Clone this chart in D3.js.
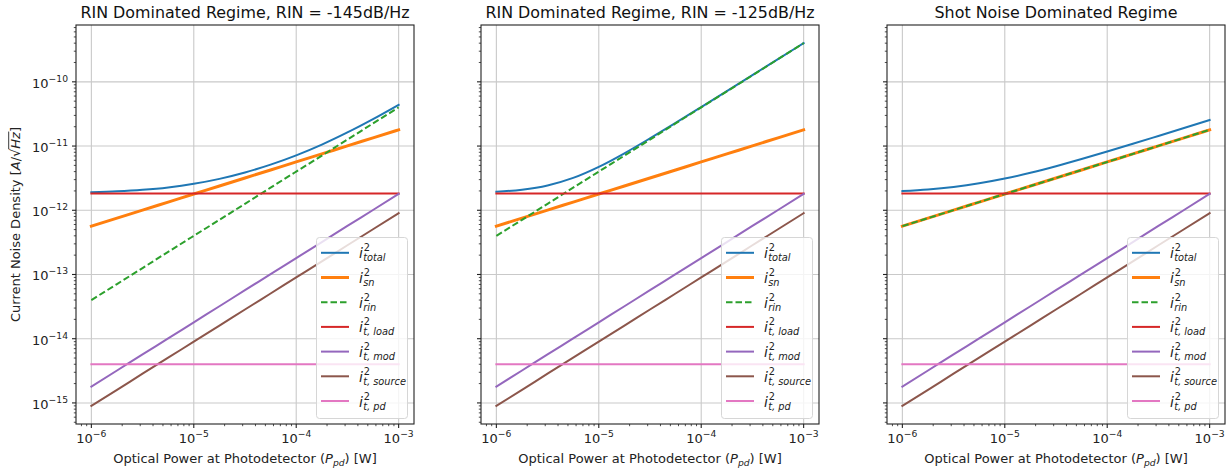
<!DOCTYPE html>
<html>
<head>
<meta charset="utf-8">
<script src="https://cdn.jsdelivr.net/npm/d3@7"></script>
<style>
  html, body { margin: 0; padding: 0; background: #fff; }
  svg { display: block; font-family: "DejaVu Sans", sans-serif; }
</style>
</head>
<body>
<svg id="chart" width="1231" height="472"></svg>
<script>
// Optical power at the photodetector (W), quarter-decade steps
const power = [1e-6, 1.78e-6, 3.16e-6, 5.62e-6, 1e-5, 1.78e-5, 3.16e-5, 5.62e-5, 1e-4, 1.78e-4, 3.16e-4, 5.62e-4, 1e-3];

// Noise current densities (A/sqrt(Hz))
const shotNoise    = [5.66e-13, 7.54e-13, 1.006e-12, 1.341e-12, 1.789e-12, 2.385e-12, 3.181e-12, 4.242e-12, 5.657e-12, 7.543e-12, 1.006e-11, 1.341e-11, 1.789e-11];
const rinNoise145  = [4.0e-14, 7.1e-14, 1.26e-13, 2.25e-13, 4.0e-13, 7.1e-13, 1.26e-12, 2.25e-12, 4.0e-12, 7.1e-12, 1.26e-11, 2.25e-11, 4.0e-11];
const rinNoise125  = [4.0e-13, 7.1e-13, 1.26e-12, 2.25e-12, 4.0e-12, 7.1e-12, 1.26e-11, 2.25e-11, 4.0e-11, 7.1e-11, 1.26e-10, 2.25e-10, 4.0e-10];
const rinNoiseShot = [5.66e-13, 7.54e-13, 1.006e-12, 1.341e-12, 1.789e-12, 2.385e-12, 3.181e-12, 4.242e-12, 5.657e-12, 7.543e-12, 1.006e-11, 1.341e-11, 1.789e-11];
const loadNoise    = [1.82e-12, 1.82e-12, 1.82e-12, 1.82e-12, 1.82e-12, 1.82e-12, 1.82e-12, 1.82e-12, 1.82e-12, 1.82e-12, 1.82e-12, 1.82e-12, 1.82e-12];
const modNoise     = [1.8e-15, 3.2e-15, 5.7e-15, 1.01e-14, 1.8e-14, 3.2e-14, 5.7e-14, 1.01e-13, 1.8e-13, 3.2e-13, 5.7e-13, 1.01e-12, 1.8e-12];
const sourceNoise  = [9.0e-16, 1.6e-15, 2.85e-15, 5.06e-15, 9.0e-15, 1.6e-14, 2.85e-14, 5.06e-14, 9.0e-14, 1.6e-13, 2.85e-13, 5.06e-13, 9.0e-13];
const pdNoise      = [4.0e-15, 4.0e-15, 4.0e-15, 4.0e-15, 4.0e-15, 4.0e-15, 4.0e-15, 4.0e-15, 4.0e-15, 4.0e-15, 4.0e-15, 4.0e-15, 4.0e-15];
const totalNoise145  = [1.906e-12, 1.971e-12, 2.083e-12, 2.271e-12, 2.583e-12, 3.083e-12, 3.877e-12, 5.136e-12, 7.166e-12, 1.053e-11, 1.628e-11, 2.628e-11, 4.39e-11];
const totalNoise125  = [1.947e-12, 2.094e-12, 2.434e-12, 3.189e-12, 4.745e-12, 7.72e-12, 1.317e-11, 2.296e-11, 4.044e-11, 7.155e-11, 1.269e-10, 2.253e-10, 4.004e-10];
const totalNoiseShot = [1.987e-12, 2.109e-12, 2.31e-12, 2.629e-12, 3.116e-12, 3.833e-12, 4.853e-12, 6.27e-12, 8.207e-12, 1.083e-11, 1.436e-11, 1.909e-11, 2.544e-11];

const panelTitles = ["RIN Dominated Regime, RIN = -145dB/Hz", "RIN Dominated Regime, RIN = -125dB/Hz", "Shot Noise Dominated Regime"];
const seriesSubscripts = ["total", "sn", "rin", "t, load", "t, mod", "t, source", "t, pd"];
const xTickExponents = [-6, -5, -4, -3];
const yTickExponents = [-15, -14, -13, -12, -11, -10];

const panels = [
  [totalNoise145, shotNoise, rinNoise145, loadNoise, modNoise, sourceNoise, pdNoise],
  [totalNoise125, shotNoise, rinNoise125, loadNoise, modNoise, sourceNoise, pdNoise],
  [totalNoiseShot, shotNoise, rinNoiseShot, loadNoise, modNoise, sourceNoise, pdNoise]
];

// ---- styling ----
const seriesStyle = [
  { color: "#1f77b4", width: 2.0, dash: null },
  { color: "#ff7f0e", width: 3.0, dash: null },
  { color: "#2ca02c", width: 2.0, dash: "6.5,3" },
  { color: "#d62728", width: 2.0, dash: null },
  { color: "#9467bd", width: 2.0, dash: null },
  { color: "#8c564b", width: 2.0, dash: null },
  { color: "#e377c2", width: 2.0, dash: null }
];
const panelLeft = [76, 481, 887];
const panelWidth = 338;
const plotTop = 25, plotBottom = 424;
const FS = 13;

const svg = d3.select("#chart");

// shared log scales with 5% padding in log space
const allY = panels.flat(2);
const ly = d3.extent(allY).map(Math.log10);
const py = (ly[1] - ly[0]) * 0.05;
const lx = d3.extent(power).map(Math.log10);
const px = (lx[1] - lx[0]) * 0.05;

function sup10(sel, exp) {
  sel.append("tspan").text("10");
  sel.append("tspan").attr("font-size", 9.2).attr("dy", -6).text("\u2212" + Math.abs(exp));
}

panels.forEach((seriesSet, pi) => {
  const x0 = panelLeft[pi];
  const x = d3.scaleLog().domain([Math.pow(10, lx[0] - px), Math.pow(10, lx[1] + px)]).range([x0, x0 + panelWidth]);
  const y = d3.scaleLog().domain([Math.pow(10, ly[0] - py), Math.pow(10, ly[1] + py)]).range([plotBottom, plotTop]);
  const g = svg.append("g");

  const clipId = "clip" + pi;
  svg.append("clipPath").attr("id", clipId).append("rect")
    .attr("x", x0).attr("y", plotTop).attr("width", panelWidth).attr("height", plotBottom - plotTop);

  // grid at major ticks
  const grid = g.append("g").attr("stroke", "#c9c9c9").attr("stroke-width", 1.1);
  xTickExponents.forEach(e => {
    const xv = x(Math.pow(10, e));
    grid.append("line").attr("x1", xv).attr("x2", xv).attr("y1", plotTop).attr("y2", plotBottom);
  });
  yTickExponents.forEach(e => {
    const yv = y(Math.pow(10, e));
    grid.append("line").attr("x1", x0).attr("x2", x0 + panelWidth).attr("y1", yv).attr("y2", yv);
  });

  // series lines
  const lines = g.append("g").attr("clip-path", `url(#${clipId})`);
  seriesSet.forEach((vals, si) => {
    const st = seriesStyle[si];
    const line = d3.line().x((d, i) => x(power[i])).y(d => y(d)).curve(d3.curveMonotoneX);
    lines.append("path").datum(vals)
      .attr("d", line)
      .attr("fill", "none")
      .attr("stroke", st.color)
      .attr("stroke-width", st.width)
      .attr("stroke-dasharray", st.dash)
      .attr("stroke-linecap", st.dash ? "butt" : "square");
  });

  // axis ticks (major + log minor)
  const ticks = g.append("g").attr("stroke", "#222");
  const [dx0, dx1] = x.domain();
  for (let k = -7; k <= -2; k++) {
    for (let m = 1; m <= 9; m++) {
      const v = m * Math.pow(10, k);
      if (v < dx0 || v > dx1) continue;
      const xv = x(v);
      const len = m === 1 ? 4 : 2.2;
      ticks.append("line").attr("x1", xv).attr("x2", xv).attr("y1", plotBottom).attr("y2", plotBottom + len)
        .attr("stroke-width", m === 1 ? 1.1 : 0.8);
    }
  }
  const [dy0, dy1] = y.domain();
  for (let k = -16; k <= -9; k++) {
    for (let m = 1; m <= 9; m++) {
      const v = m * Math.pow(10, k);
      if (v < dy0 || v > dy1) continue;
      const yv = y(v);
      const len = m === 1 ? 4 : 2.2;
      ticks.append("line").attr("x1", x0 - len).attr("x2", x0).attr("y1", yv).attr("y2", yv)
        .attr("stroke-width", m === 1 ? 1.1 : 0.8);
    }
  }

  // tick labels
  xTickExponents.forEach(e => {
    const t = g.append("text").attr("x", x(Math.pow(10, e))).attr("y", 443)
      .attr("text-anchor", "middle").attr("font-size", FS).attr("fill", "#222");
    sup10(t, e);
  });
  if (pi === 0) {
    yTickExponents.forEach(e => {
      const t = g.append("text").attr("x", x0 - 8).attr("y", y(Math.pow(10, e)) + 6)
        .attr("text-anchor", "end").attr("font-size", FS).attr("fill", "#222");
      sup10(t, e);
    });
  }

  // frame
  g.append("rect").attr("x", x0).attr("y", plotTop).attr("width", panelWidth).attr("height", plotBottom - plotTop)
    .attr("fill", "none").attr("stroke", "#222").attr("stroke-width", 1.1);

  // title
  g.append("text").attr("x", x0 + panelWidth / 2).attr("y", 17.5).attr("text-anchor", "middle")
    .attr("font-size", 15.9).attr("fill", "#111").text(panelTitles[pi]);

  // x label
  const xl = g.append("text").attr("x", x0 + panelWidth / 2).attr("y", 463).attr("text-anchor", "middle")
    .attr("font-size", FS).attr("fill", "#222");
  xl.append("tspan").text("Optical Power at Photodetector (");
  xl.append("tspan").attr("font-style", "italic").text("P");
  xl.append("tspan").attr("font-style", "italic").attr("font-size", 9.2).attr("dy", 2.5).text("pd");
  xl.append("tspan").attr("dy", -2.5).text(") [W]");

  // legend
  const lgRight = x0 + panelWidth - 6.5;
  const lgW = 91, lgH = 181;
  const lgX = lgRight - lgW, lgY = 237.5;
  const lg = g.append("g");
  lg.append("rect").attr("x", lgX).attr("y", lgY).attr("width", lgW).attr("height", lgH)
    .attr("rx", 3).attr("ry", 3)
    .attr("fill", "#fff").attr("fill-opacity", 0.8)
    .attr("stroke", "#d6d6d6").attr("stroke-width", 1);
  seriesSubscripts.forEach((sub, si) => {
    const st = seriesStyle[si];
    const ly0 = lgY + 15.3 + si * 24.7;
    lg.append("line").attr("x1", lgX + 4.5).attr("x2", lgX + 32.5).attr("y1", ly0).attr("y2", ly0)
      .attr("stroke", st.color).attr("stroke-width", st.width).attr("stroke-dasharray", st.dash);
    const tx = lgX + 42.5;
    const iT = lg.append("text").attr("x", tx).attr("y", ly0 + 5.5).attr("font-size", 14)
      .attr("font-style", "italic").attr("fill", "#222").text("i");
    const w = iT.node().getComputedTextLength() + 0.8;
    lg.append("text").attr("x", tx + w).attr("y", ly0 - 1.5).attr("font-size", 9.8)
      .attr("fill", "#222").text("2");
    lg.append("text").attr("x", tx + w - 0.5).attr("y", ly0 + 8.5).attr("font-size", 9.8)
      .attr("font-style", "italic").attr("fill", "#222").text(sub);
  });
});

// shared y label
const yg = svg.append("g").attr("transform", `translate(19.5, ${(plotTop + plotBottom) / 2}) rotate(-90)`);
const yl = yg.append("text").attr("x", 0).attr("y", 0).attr("text-anchor", "middle")
  .attr("font-size", FS).attr("fill", "#222");
yl.append("tspan").text("Current Noise Density [");
yl.append("tspan").attr("font-style", "italic").text("A");
yl.append("tspan").text("/");
yl.append("tspan").text("\u221A");
yl.append("tspan").attr("font-style", "italic").text("Hz");
yl.append("tspan").text("]");
// overbar for the radical
{
  const node = yl.node();
  const full = node.textContent;
  const iRoot = full.indexOf("\u221A");
  const rootBox = node.getExtentOfChar(iRoot);
  const zBox = node.getExtentOfChar(iRoot + 2);
  const barY = rootBox.y + 1.2;
  yg.append("line").attr("x1", rootBox.x + rootBox.width - 0.6).attr("x2", zBox.x + zBox.width + 0.5)
    .attr("y1", barY).attr("y2", barY).attr("stroke", "#222").attr("stroke-width", 0.9);
}
</script>
</body>
</html>
